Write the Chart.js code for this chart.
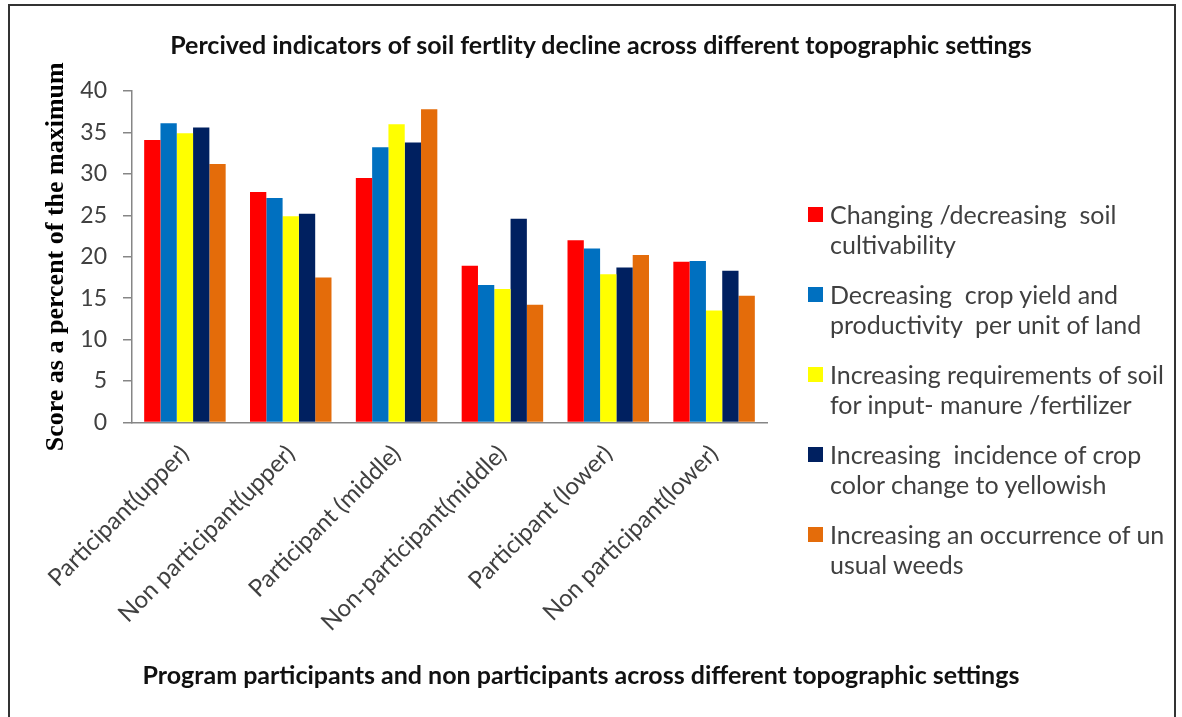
<!DOCTYPE html>
<html>
<head>
<meta charset="utf-8">
<script src="https://cdn.jsdelivr.net/npm/chart.js@4/dist/chart.umd.min.js"></script>
<style>
  html, body { margin: 0; padding: 0; background: #fff; }
  #wrap { position: relative; width: 1182px; height: 717px; overflow: hidden; background: #fff; }
  #c { position: absolute; left: 0; top: 0; }
  #frame { position: absolute; left: 8px; top: 4px; width: 1168px; height: 740px; border: 2px solid #333; box-sizing: border-box; }
  .ttl { position: absolute; font-family: Lato, sans-serif; font-weight: bold; color: #111; white-space: nowrap; transform: translate(-50%, -50%); }
  #legend { position: absolute; left: 808px; top: 199px; font-family: Lato, sans-serif; color: #404040; }
  .item { position: relative; padding-left: 22px; margin-bottom: 20px; font-size: 25px; line-height: 30px; white-space: pre; }
  .sw { position: absolute; left: 0; top: 8px; width: 15px; height: 15px; }
</style>
</head>
<body>
<div id="wrap">
  <canvas id="c" width="1182" height="717"></canvas>
  <div id="frame"></div>
  <div class="ttl" id="title" style="left:601px; top:44px; font-size:25px;"></div>
  <div class="ttl" id="xtitle" style="left:581px; top:674px; font-size:25px;"></div>
  <div id="legend"></div>
</div>
<script>
const chartTitle = "Percived indicators of soil fertlity decline across different topographic settings";
const xAxisTitle = "Program participants and non participants across different topographic settings";
const yAxisTitle = "Score as a percent of the maximum";

const categories = ["Participant(upper)", "Non participant(upper)", "Participant (middle)", "Non-participant(middle)", "Participant (lower)", "Non participant(lower)"];

const seriesNames = [
  ["Changing /decreasing  soil", "cultivability"],
  ["Decreasing  crop yield and", "productivity  per unit of land"],
  ["Increasing requirements of soil", "for input- manure /fertilizer"],
  ["Increasing  incidence of crop", "color change to yellowish"],
  ["Increasing an occurrence of un", "usual weeds"]
];
const seriesColors = ["#FF0000", "#0070C0", "#FFFF00", "#002060", "#E46C0A"];

const soilCultivability = [34.1, 27.8, 29.5, 18.9, 22.0, 19.4];
const cropYield        = [36.1, 27.1, 33.2, 16.6, 21.0, 19.5];
const inputRequirement = [34.9, 24.9, 36.0, 16.1, 17.9, 13.5];
const cropYellowing    = [35.6, 25.2, 33.8, 24.6, 18.7, 18.3];
const unusualWeeds     = [31.2, 17.5, 37.8, 14.2, 20.2, 15.3];
const seriesValues = [soilCultivability, cropYield, inputRequirement, cropYellowing, unusualWeeds];

const yTicks = [0, 5, 10, 15, 20, 25, 30, 35, 40];

document.getElementById('title').textContent = chartTitle;
document.getElementById('xtitle').textContent = xAxisTitle;

const legendEl = document.getElementById('legend');
seriesNames.forEach((lines, i) => {
  const it = document.createElement('div');
  it.className = 'item';
  const sw = document.createElement('span');
  sw.className = 'sw';
  sw.style.background = seriesColors[i];
  it.appendChild(sw);
  it.appendChild(document.createTextNode(lines.join('\n')));
  legendEl.appendChild(it);
});

const AXIS_COLOR = '#868686';
new Chart(document.getElementById('c'), {
  type: 'bar',
  data: {
    labels: categories,
    datasets: seriesValues.map((vals, i) => ({
      label: seriesNames[i].join(' '),
      data: vals,
      backgroundColor: seriesColors[i],
      borderWidth: 0,
      categoryPercentage: 0.77,
      barPercentage: 1.0
    }))
  },
  options: {
    responsive: false,
    animation: false,
    devicePixelRatio: 1,
    layout: { padding: { top: 91, right: 415, bottom: 0, left: 0 } },
    plugins: { legend: { display: false }, title: { display: false }, tooltip: { enabled: false } },
    scales: {
      x: {
        grid: { display: false },
        border: { display: true, color: AXIS_COLOR, width: 1.5 },
        ticks: { color: '#404040', font: { family: 'Lato', size: 24 }, minRotation: 45, maxRotation: 45, padding: 9, autoSkip: false },
        afterFit: (s) => { s.height = 717 - 422.5; }
      },
      y: {
        min: 0, max: 40,
        afterBuildTicks: (s) => { s.ticks = yTicks.map(v => ({ value: v })); },
        grid: { drawOnChartArea: false, drawTicks: true, tickLength: 9, color: AXIS_COLOR, lineWidth: 1.5 },
        border: { display: true, color: AXIS_COLOR, width: 1.5 },
        ticks: { color: '#404040', font: { family: 'Lato', size: 23 }, padding: 16 },
        title: { display: true, text: yAxisTitle, color: '#000', font: { family: 'Liberation Serif', size: 26, weight: 'bold' }, padding: { top: 41, bottom: 0 } },
        afterFit: (s) => { s.width = 132; }
      }
    }
  }
});
</script>
</body>
</html>
